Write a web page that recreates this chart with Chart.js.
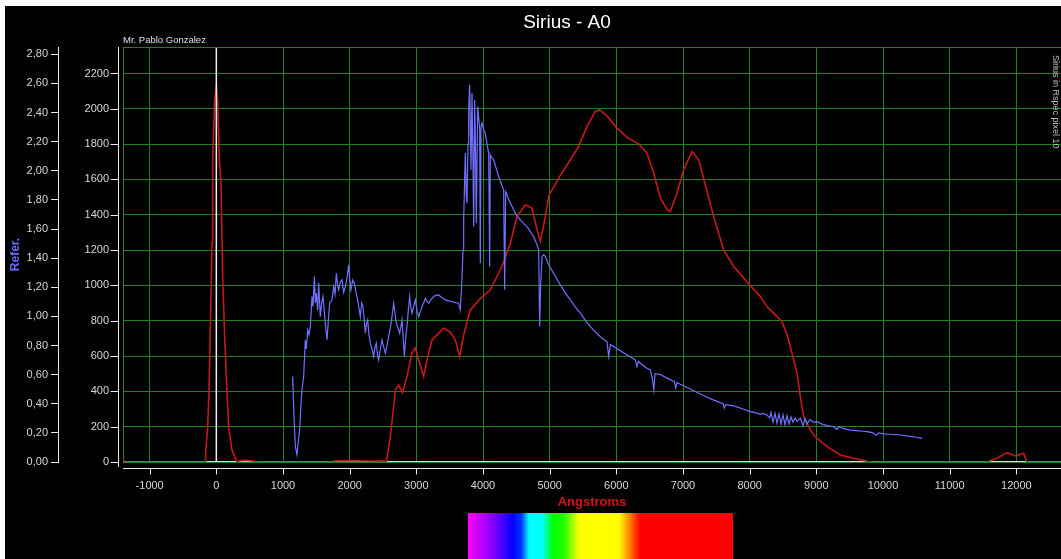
<!DOCTYPE html>
<html>
<head>
<meta charset="utf-8">
<title>Sirius - A0</title>
<script src="https://cdn.jsdelivr.net/npm/chart.js@4.4.1/dist/chart.umd.min.js"></script>
<style>
  html, body { margin: 0; padding: 0; background: #fff; overflow: hidden; }
  #wrap { position: absolute; left: 5px; top: 6px; width: 1056px; height: 553px; background: #000; }
</style>
</head>
<body>
<div id="wrap"><canvas id="spectrumChart"></canvas></div>
<script>
// Reference spectrum (red), wavelength in Angstroms / intensity
const redWave = [-1400, -200, -165, -160, -130, -110, -90, -65, -55, -25, 0, 20, 45, 70, 95, 125, 160, 185, 235, 310,
  360, 450, 550, 620, 1750, 1760, 2000, 2250, 2550,
  2610, 2660, 2685, 2735, 2795, 2860, 2935, 2985, 3035, 3110, 3160, 3235, 3310, 3410, 3510, 3585, 3650, 3710, 3810, 3960,
  4110, 4285, 4410, 4510, 4635, 4735, 4810, 4860, 4935, 4990, 5150, 5300, 5435, 5560, 5610, 5685, 5750, 5860, 6000,
  6160, 6340, 6460, 6560, 6660, 6760, 6810, 6910, 7010, 7135, 7235, 7335, 7460, 7610, 7760, 7960, 8160, 8260, 8360,
  8485, 8560, 8610, 8710, 8760, 8810, 8910, 8985, 9160, 9360, 9560, 9785, 9850, 11560, 11700, 11860, 11985, 12110, 12160, 12670];
const redFlux = [0, 0, 0, 51, 198, 391, 765, 1241, 1711, 2051, 2136, 2051, 1711, 1581, 1048, 708, 391, 198, 68, 0,
  8, 10, 6, 0, 0, 6, 8, 6, 5,
  143, 313, 408, 436, 393, 484, 618, 646, 578, 484, 578, 691, 720, 758, 735, 690, 597, 720, 861, 925,
  975, 1107, 1239, 1390, 1456, 1437, 1315, 1248, 1390, 1510, 1617, 1706, 1787, 1900, 1935, 1985, 1995, 1960, 1895,
  1838, 1800, 1749, 1636, 1494, 1430, 1418, 1523, 1655, 1758, 1711, 1570, 1390, 1201, 1107, 1020, 937, 880, 843,
  795, 720, 653, 503, 370, 257, 181, 143, 87, 40, 21, 2, 0, 0, 20, 53, 34, 49, 0, 0];

// Sirius spectrum (blue)
const blueWave = [1135, 1145, 1165, 1185, 1210, 1230, 1250, 1270, 1285, 1310, 1335, 1350, 1370, 1390, 1410, 1435, 1450, 1470,
  1485, 1500, 1520, 1535, 1560, 1580, 1600, 1620, 1635, 1660, 1680, 1700, 1735, 1760, 1780, 1800, 1820, 1835, 1860, 1885,
  1910, 1935, 1960, 1985, 2000, 2020, 2045, 2070, 2095, 2120, 2140, 2160, 2180, 2200, 2220, 2235, 2250, 2270, 2290, 2310,
  2335, 2360, 2380, 2400, 2420, 2435, 2460, 2485, 2510, 2535, 2560, 2585, 2610, 2635, 2660, 2680, 2700, 2725, 2750, 2770,
  2785, 2800, 2820, 2840, 2860, 2880, 2900, 2920, 2935, 2960, 2985, 3010, 3035, 3060, 3085, 3110, 3135, 3160, 3185, 3220,
  3260, 3300, 3335, 3385, 3435, 3485, 3535, 3585, 3635, 3660, 3685, 3700, 3710, 3725, 3735, 3750, 3760, 3775, 3785, 3800,
  3810, 3820, 3835, 3850, 3860, 3875, 3890, 3900, 3920, 3935, 3950, 3960, 3970, 3985, 4010, 4035, 4060, 4085, 4100, 4110,
  4120, 4160, 4200, 4235, 4270, 4310, 4325, 4340, 4350, 4380, 4410, 4450, 4485, 4520, 4560, 4610, 4660, 4710, 4760, 4800,
  4835, 4850, 4865, 4885, 4910, 4935, 4970, 5010, 5080, 5160, 5230, 5310, 5380, 5460, 5530, 5610, 5690, 5785, 5860, 5885,
  5910, 5960, 6060, 6160, 6230, 6285, 6310, 6330, 6360, 6440, 6510, 6540, 6563, 6580, 6660, 6760, 6870, 6890, 6910, 6960,
  7100, 7260, 7400, 7500, 7600, 7620, 7640, 7760, 7900, 8010, 8100, 8150, 8200, 8260, 8300, 8320, 8350, 8380, 8410, 8440,
  8470, 8500, 8530, 8560, 8590, 8620, 8650, 8680, 8710, 8760, 8800, 8830, 8860, 8900, 8960, 9010, 9100, 9180, 9260, 9300,
  9350, 9400, 9510, 9600, 9700, 9760, 9850, 9900, 9930, 10010, 10100, 10260, 10400, 10500, 10585];
const blueFlux = [436, 484, 250, 90, 40, 120, 181, 330, 408, 484, 691, 640, 748, 720, 767, 937, 880, 1050,
  900, 956, 860, 1013, 823, 900, 937, 850, 786, 691, 800, 899, 918, 993, 950, 1069, 1000, 975, 1020, 1031,
  960, 993, 1040, 1116, 1040, 975, 1030, 1013, 960, 918, 870, 823, 900, 880, 800, 729, 780, 805, 720, 673,
  640, 597, 650, 673, 600, 578, 640, 691, 650, 616, 660, 710, 760, 823, 899, 840, 786, 760, 729, 770,
  805, 720, 597, 700, 767, 860, 937, 870, 843, 880, 918, 860, 823, 850, 880, 900, 927, 910, 899, 920,
  937, 945, 946, 930, 918, 912, 908, 902, 899, 861, 1040, 1200, 1371, 1600, 1749, 1500, 1466, 1800, 1995, 2136,
  1900, 1655, 2089, 1700, 1333, 2051, 1700, 1352, 2013, 1950, 1881, 1126, 1900, 1919, 1880, 1862, 1800, 1749, 1107, 1740,
  1730, 1711, 1660, 1617, 1580, 1541, 975, 1530, 1523, 1490, 1466, 1435, 1409, 1390, 1371, 1350, 1333, 1305, 1277, 1240,
  1201, 767, 1000, 1163, 1173, 1165, 1130, 1100, 1055, 1003, 960, 918, 880, 843, 805, 767, 735, 701, 682, 597,
  665, 654, 630, 606, 590, 578, 540, 570, 559, 535, 521, 470, 408, 500, 495, 475, 455, 420, 450, 440,
  415, 385, 360, 345, 330, 305, 325, 318, 300, 285, 278, 270, 275, 266, 250, 280, 225, 275, 220, 272,
  215, 268, 210, 262, 215, 255, 225, 250, 230, 248, 205, 245, 215, 240, 225, 228, 212, 205, 200, 185,
  200, 190, 181, 178, 174, 172, 165, 150, 165, 159, 157, 153, 145, 140, 134];

// zero-order marker and zero baseline
const markWave = [0, 0];
const markFlux = [0, 2350];
const baseWave = [-1400, 12670];
const baseFlux = [0, 0];

// axis ranges and tick values
const xMin = -1400, xMax = 12670;
const xTicks = [-1000, 0, 1000, 2000, 3000, 4000, 5000, 6000, 7000, 8000, 9000, 10000, 11000, 12000];
const yMax = 2350;
const yTicks = [0, 200, 400, 600, 800, 1000, 1200, 1400, 1600, 1800, 2000, 2200];
const referMax = 2.85;
const referTicks = [0, 0.2, 0.4, 0.6, 0.8, 1.0, 1.2, 1.4, 1.6, 1.8, 2.0, 2.2, 2.4, 2.6, 2.8];

const gridGreen = 'rgb(34,128,34)';
const tickGray = '#d6d6d6';

function toPoints(xs, ys) {
  return xs.map((x, i) => ({ x: x, y: ys[i] }));
}

function fixedTicks(values) {
  return scale => { scale.ticks = values.map(v => ({ value: v })); };
}

Chart.defaults.font.family = '"Liberation Sans", Arial, sans-serif';
Chart.defaults.font.size = 11;

// extra drawing: offset white axis lines, texts and the colour strip
const extras = {
  id: 'extras',
  afterDraw(chart) {
    const { ctx, chartArea: a, scales } = chart;
    ctx.save();

    // top green frame line
    ctx.strokeStyle = gridGreen;
    ctx.lineWidth = 1;
    ctx.beginPath();
    ctx.moveTo(a.left, a.top + 0.5);
    ctx.lineTo(a.right, a.top + 0.5);
    ctx.stroke();

    // white y axis a bit left of the plot
    ctx.strokeStyle = '#e8e8e8';
    const ax = a.left - 5 + 0.5;
    ctx.beginPath();
    ctx.moveTo(ax, a.top);
    ctx.lineTo(ax, a.bottom + 5);
    scales.y.ticks.forEach(t => {
      const py = Math.round(scales.y.getPixelForValue(t.value)) + 0.5;
      ctx.moveTo(ax, py);
      ctx.lineTo(ax - 8, py);
    });
    ctx.stroke();

    // white x axis a bit below the plot
    const ay = a.bottom + 6 + 0.5;
    ctx.beginPath();
    ctx.moveTo(a.left, ay);
    ctx.lineTo(a.right, ay);
    scales.x.ticks.forEach(t => {
      const px = Math.round(scales.x.getPixelForValue(t.value)) + 0.5;
      ctx.moveTo(px, ay);
      ctx.lineTo(px, ay + 6);
    });
    ctx.stroke();

    // title
    ctx.fillStyle = '#ffffff';
    ctx.font = '19px "Liberation Sans", Arial, sans-serif';
    ctx.textAlign = 'center';
    ctx.textBaseline = 'middle';
    ctx.fillText('Sirius - A0', 562, 17);

    // author
    ctx.fillStyle = '#e0e0e0';
    ctx.font = '9.5px "Liberation Sans", Arial, sans-serif';
    ctx.textAlign = 'left';
    ctx.textBaseline = 'alphabetic';
    ctx.fillText('Mr. Pablo Gonzalez', a.left, a.top - 4);

    // rotated note at the right edge
    ctx.save();
    ctx.translate(a.right - 6, a.top + 8);
    ctx.rotate(Math.PI / 2);
    ctx.fillStyle = '#bdbdbd';
    ctx.font = '9px "Liberation Sans", Arial, sans-serif';
    ctx.textBaseline = 'middle';
    ctx.fillText('Sirius in Rspec pixel 10', 0, 0);
    ctx.restore();

    // colour strip under the axis title
    const sx = 463, sw = 265, sy = a.bottom + 51, sh = chart.height - sy;
    const g = ctx.createLinearGradient(sx, 0, sx + sw, 0);
    g.addColorStop(0.0, '#ff00ff');
    g.addColorStop(0.09, '#8a00ff');
    g.addColorStop(0.17, '#0000ff');
    g.addColorStop(0.2, '#0030ff');
    g.addColorStop(0.23, '#00ffff');
    g.addColorStop(0.28, '#00ffff');
    g.addColorStop(0.32, '#00ff00');
    g.addColorStop(0.36, '#20ff00');
    g.addColorStop(0.42, '#ffff00');
    g.addColorStop(0.57, '#ffff00');
    g.addColorStop(0.61, '#ff8000');
    g.addColorStop(0.65, '#ff0000');
    g.addColorStop(1.0, '#ff0000');
    ctx.fillStyle = g;
    ctx.fillRect(sx, sy, sw, sh);

    ctx.restore();
  }
};

const ctx = document.getElementById('spectrumChart').getContext('2d');
const spectrumChart = new Chart(ctx, {
  type: 'line',
  data: {
    datasets: [
      {
        label: 'Zero order',
        data: toPoints(markWave, markFlux),
        borderColor: '#f0f0f0',
        borderWidth: 1.5,
        pointRadius: 0
      },
      {
        label: 'Sirius',
        data: toPoints(blueWave, blueFlux),
        borderColor: 'rgb(112,112,255)',
        borderWidth: 1.2,
        pointRadius: 0
      },
      {
        label: 'Reference',
        data: toPoints(redWave, redFlux),
        borderColor: 'rgb(200,24,24)',
        borderWidth: 1.6,
        pointRadius: 0
      },
      {
        label: 'Baseline',
        data: toPoints(baseWave, baseFlux),
        borderColor: '#d8d8d8',
        borderWidth: 2,
        pointRadius: 0
      }
    ]
  },
  options: {
    responsive: true,
    maintainAspectRatio: false,
    animation: false,
    layout: { padding: { top: 41, left: 0, right: 0, bottom: 49 } },
    plugins: {
      legend: { display: false },
      tooltip: { enabled: false }
    },
    scales: {
      x: {
        type: 'linear',
        min: xMin,
        max: xMax,
        afterBuildTicks: fixedTicks(xTicks),
        afterFit: s => { s.height = 48; },
        ticks: {
          color: tickGray,
          padding: 3,
          maxRotation: 0,
          autoSkip: false,
          callback: v => String(v)
        },
        grid: { color: gridGreen, tickLength: 14, tickColor: 'rgba(0,0,0,0)' },
        border: { display: true, color: gridGreen },
        title: {
          display: true,
          text: 'Angstroms',
          color: 'rgb(210,20,20)',
          font: { size: 13, weight: 'bold' },
          padding: { top: 0, bottom: 0 }
        }
      },
      y: {
        position: 'left',
        weight: 0,
        min: 0,
        max: yMax,
        afterBuildTicks: fixedTicks(yTicks),
        afterFit: s => { s.width = 65; },
        ticks: {
          color: tickGray,
          padding: 4,
          autoSkip: false,
          callback: v => String(v)
        },
        grid: { color: gridGreen, tickLength: 10, tickColor: 'rgba(0,0,0,0)' },
        border: { display: true, color: gridGreen }
      },
      y2: {
        position: 'left',
        weight: 1,
        min: 0,
        max: referMax,
        afterBuildTicks: fixedTicks(referTicks),
        afterFit: s => { s.width = 53; },
        ticks: {
          color: tickGray,
          padding: 3,
          autoSkip: false,
          callback: v => v.toFixed(2).replace('.', ',')
        },
        grid: { drawOnChartArea: false, tickLength: 7, tickColor: '#e8e8e8' },
        border: { display: true, color: '#e8e8e8' },
        title: {
          display: true,
          text: 'Refer.',
          color: 'rgb(106,106,255)',
          font: { size: 12, weight: 'bold' },
          padding: { top: 3, bottom: 0 }
        }
      }
    }
  },
  plugins: [extras]
});
</script>
</body>
</html>
